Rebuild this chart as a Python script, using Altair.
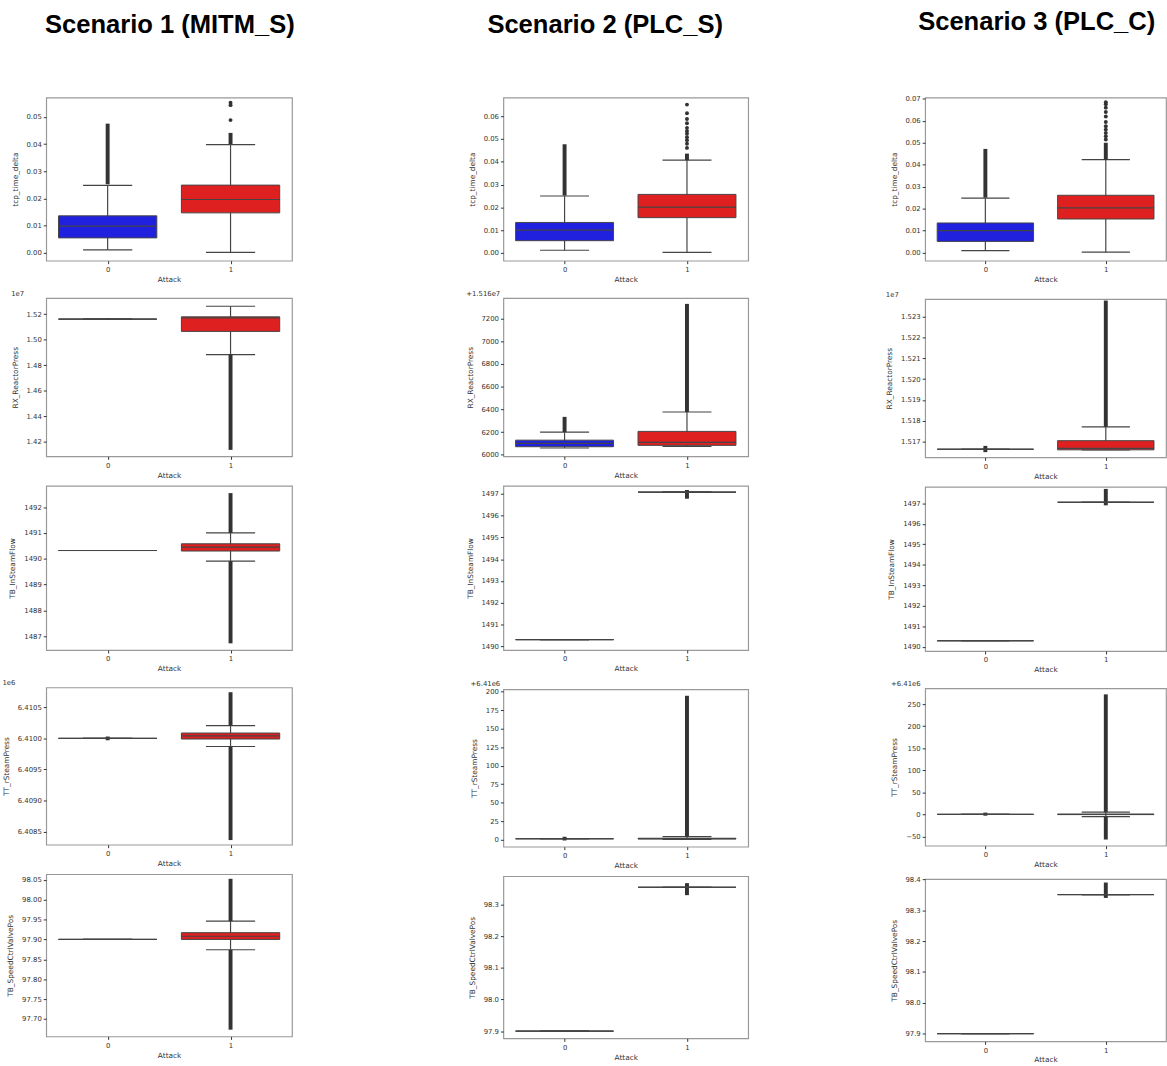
import altair as alt
import pandas as pd

SCENARIOS = ["Scenario 1 (MITM_S)", "Scenario 2 (PLC_S)", "Scenario 3 (PLC_C)"]
VARIABLES = ["tcp_time_delta", "RX_ReactorPress", "TB_InSteamFlow", "TT_rSteamPress", "TB_SpeedCtrlValvePos"]
ATTACK = [0, 1]
BOX_COLORS = ["#2020df", "#df2020"]

# matplotlib offset text shown above some panels
OFFSETS = [
    ["", "1e7", "", "1e6", ""],
    ["", "+1.516e7", "", "+6.41e6", ""],
    ["", "1e7", "", "+6.41e6", ""],
]

Y_TICKS = [
    [[0.00, 0.01, 0.02, 0.03, 0.04, 0.05],
     [1.42, 1.44, 1.46, 1.48, 1.50, 1.52],
     [1487, 1488, 1489, 1490, 1491, 1492],
     [6.4085, 6.4090, 6.4095, 6.4100, 6.4105],
     [97.70, 97.75, 97.80, 97.85, 97.90, 97.95, 98.00, 98.05]],
    [[0.00, 0.01, 0.02, 0.03, 0.04, 0.05, 0.06],
     [6000, 6200, 6400, 6600, 6800, 7000, 7200],
     [1490, 1491, 1492, 1493, 1494, 1495, 1496, 1497],
     [0, 25, 50, 75, 100, 125, 150, 175, 200],
     [97.9, 98.0, 98.1, 98.2, 98.3]],
    [[0.00, 0.01, 0.02, 0.03, 0.04, 0.05, 0.06, 0.07],
     [1.517, 1.518, 1.519, 1.520, 1.521, 1.522, 1.523],
     [1490, 1491, 1492, 1493, 1494, 1495, 1496, 1497],
     [-50, 0, 50, 100, 150, 200, 250],
     [97.9, 98.0, 98.1, 98.2, 98.3, 98.4]],
]
Y_FORMATS = [
    [".2f", ".2f", "d", ".4f", ".2f"],
    [".2f", "d", "d", "d", ".1f"],
    [".2f", ".3f", "d", "d", ".1f"],
]
Y_DOMAINS = [
    [[-0.0029, 0.0571], [1.4086, 1.5327], [1486.47, 1492.82], [6.40829, 6.41082], [97.656, 98.064]],
    [[-0.0034, 0.0682], [5986, 7380], [1489.82, 1497.37], [-9.4, 203], [97.877, 98.39]],
    [[-0.0037, 0.0706], [1.51625, 1.52383], [1489.8, 1497.8], [-71, 285.5], [97.875, 98.401]],
]

# box statistics: per scenario, per variable, [attack 0, attack 1]
Q1 = [
    [[0.0055, 0.0147], [1.5162, 1.5066], [1490.32, 1490.30], [6.41000, 6.40999], [97.900, 97.900]],
    [[0.0054, 0.0155], [6071, 6083], [1490.30, 1497.08], [1.3, 1.0], [97.90, 98.355]],
    [[0.0051, 0.0153], [1.51664, 1.51661], [1490.30, 1497.05], [0.0, -0.5], [97.90, 98.351]],
]
MED = [
    [[0.0098, 0.0196], [1.5162, 1.5172], [1490.32, 1490.45], [6.41000, 6.41004], [97.900, 97.908]],
    [[0.0100, 0.0201], [6100, 6110], [1490.30, 1497.08], [1.3, 1.3], [97.90, 98.355]],
    [[0.0100, 0.0204], [1.51664, 1.51668], [1490.30, 1497.05], [0.0, 0.0], [97.90, 98.351]],
]
Q3 = [
    [[0.0136, 0.0249], [1.5162, 1.5180], [1490.32, 1490.58], [6.41000, 6.410086], [97.900, 97.917]],
    [[0.0134, 0.0257], [6129, 6206], [1490.30, 1497.08], [1.3, 2.0], [97.90, 98.355]],
    [[0.0135, 0.0261], [1.51664, 1.51705], [1490.30, 1497.05], [0.0, 0.5], [97.90, 98.351]],
]
WLO = [
    [[0.0011, 0.0002], [1.5162, 1.4884], [1490.32, 1489.91], [6.41000, 6.40987], [97.900, 97.874]],
    [[0.0012, 0.0003], [6060, 6074], [1490.30, 1497.08], [1.3, 0.5], [97.90, 98.355]],
    [[0.0009, 0.0002], [1.51664, 1.51661], [1490.30, 1497.05], [0.0, -5.0], [97.90, 98.351]],
]
WHI = [
    [[0.0248, 0.0398], [1.5162, 1.5263], [1490.32, 1491.00], [6.41000, 6.410205], [97.900, 97.946]],
    [[0.0250, 0.0407], [6200, 6377], [1490.30, 1497.08], [1.3, 4.3], [97.90, 98.355]],
    [[0.0248, 0.0423], [1.51664, 1.51771], [1490.30, 1497.05], [0.0, 5.0], [97.90, 98.351]],
]

# dense runs of outliers (drawn as solid columns): [low, high]
OUTLIER_RUNS = [
    [[[[0.0252, 0.0475]], [[0.0400, 0.0441]]],
     [[[1.5158, 1.5168]], [[1.4137, 1.4884]]],
     [[], [[1491.0, 1492.54], [1486.73, 1489.91]]],
     [[[6.40997, 6.41003]], [[6.410205, 6.410743], [6.408365, 6.40987]]],
     [[], [[97.946, 98.0525], [97.673, 97.874]]]],
    [[[[0.0252, 0.0477]], [[0.0407, 0.0436]]],
     [[[6200, 6334]], [[6377, 7329]]],
     [[], [[1496.78, 1497.18]]],
     [[[-1.0, 4.0]], [[4.3, 194.4]]],
     [[], [[98.33, 98.368]]]],
    [[[[0.0250, 0.0472]], [[0.0423, 0.0500]]],
     [[[1.51650, 1.51680]], [[1.51771, 1.52376]]],
     [[], [[1496.9, 1497.7]]],
     [[[-3.0, 4.0]], [[5.0, 272.0], [-57.0, -5.0]]],
     [[], [[98.34, 98.39]]]],
]
# isolated outliers
OUTLIER_POINTS = [
    [[[], [0.0488, 0.0543, 0.0552]], [[], []], [[], []], [[], []], [[], []]],
    [[[], [0.0461, 0.0479, 0.0495, 0.0508, 0.0523, 0.0535, 0.0549, 0.0569, 0.0588, 0.0613, 0.0651]],
     [[], []], [[], []], [[], []], [[], []]],
    [[[], [0.0515, 0.0530, 0.0545, 0.0560, 0.0575, 0.0595, 0.0620, 0.0640, 0.0660, 0.0675, 0.0685]],
     [[], []], [[], []], [[], []], [[], []]],
]

COL_WIDTHS = [250, 249, 245]
ROW_HEIGHTS = [166, 161, 167, 160, 165]
TITLE_DX = [23, -2, 11]
LINE = "#444444"
FLIER = "#333333"


def panel(si, vi):
    xs = alt.Scale(domain=[-0.5, 1.5], nice=False, zero=False)
    xa = alt.Axis(values=ATTACK, format="d", title="Attack")
    ys = alt.Scale(domain=Y_DOMAINS[si][vi], nice=False, zero=False)
    ya = alt.Axis(values=Y_TICKS[si][vi], format=Y_FORMATS[si][vi], title=VARIABLES[vi],
                  titlePadding=7)

    def X(f):
        return alt.X(f + ":Q", scale=xs, axis=xa)

    def Y(f):
        return alt.Y(f + ":Q", scale=ys, axis=ya)

    rows = []
    for c in ATTACK:
        rows.append(dict(x=c, xl=c - 0.4, xr=c + 0.4, cl=c - 0.2, cr=c + 0.2,
                         q1=Q1[si][vi][c], med=MED[si][vi][c], q3=Q3[si][vi][c],
                         wlo=WLO[si][vi][c], whi=WHI[si][vi][c], color=BOX_COLORS[c]))
    box_df = pd.DataFrame(rows)
    base = alt.Chart(box_df)
    layers = [
        base.mark_rule(color=LINE, strokeWidth=1.2).encode(x=X("x"), y=Y("wlo"), y2="whi"),
        base.mark_rule(color=LINE, strokeWidth=1.2).encode(x=X("cl"), x2="cr", y=Y("wlo")),
        base.mark_rule(color=LINE, strokeWidth=1.2).encode(x=X("cl"), x2="cr", y=Y("whi")),
    ]
    run_rows = []
    pt_rows = []
    for c in ATTACK:
        for lo, hi in OUTLIER_RUNS[si][vi][c]:
            run_rows.append(dict(x=c, lo=lo, hi=hi))
        for v in OUTLIER_POINTS[si][vi][c]:
            pt_rows.append(dict(x=c, v=v))
    if run_rows:
        layers.append(alt.Chart(pd.DataFrame(run_rows)).mark_rule(color=FLIER, strokeWidth=4)
                      .encode(x=X("x"), y=Y("lo"), y2="hi"))
    if pt_rows:
        layers.append(alt.Chart(pd.DataFrame(pt_rows)).mark_circle(color=FLIER, size=16, opacity=1)
                      .encode(x=X("x"), y=Y("v")))
    layers += [
        base.mark_bar(stroke=LINE, strokeWidth=1).encode(
            x=X("xl"), x2="xr", y=Y("q1"), y2="q3", color=alt.Color("color:N", scale=None)),
        base.mark_rule(color=LINE, strokeWidth=1.2).encode(x=X("xl"), x2="xr", y=Y("med")),
    ]
    ch = alt.layer(*layers).properties(width=COL_WIDTHS[si], height=ROW_HEIGHTS[vi])
    if OFFSETS[si][vi]:
        ch = ch.properties(title=alt.TitleParams(OFFSETS[si][vi], anchor="start", fontSize=7,
                                                 fontWeight="normal", font="DejaVu Sans",
                                                 color="#333333", offset=1))
    return ch


cols = []
for si, name in enumerate(SCENARIOS):
    cols.append(alt.vconcat(*[panel(si, vi) for vi in range(len(VARIABLES))], spacing=5,
                            title=alt.TitleParams(name, fontSize=26, font="Liberation Sans",
                                                  fontWeight="bold", anchor="middle",
                                                  offset=60, dx=TITLE_DX[si],
                                                  color="#000000")))

chart = alt.hconcat(cols[0], alt.hconcat(cols[1], cols[2], spacing=138), spacing=173).properties(
    padding={"left": 1, "top": 0, "right": 0, "bottom": 0}
).configure_axis(
    labelFont="DejaVu Sans", titleFont="DejaVu Sans", labelFontSize=7, titleFontSize=7.5,
    labelColor="#333333", titleColor="#333333", tickColor="#333333", tickSize=3,
    labelPadding=2, titlePadding=3, grid=False, domain=False, titleFontWeight="normal"
).configure_view(stroke="#999999", strokeWidth=1.2)

chart.save("out.html", embed_options={"renderer": "svg", "actions": False})
